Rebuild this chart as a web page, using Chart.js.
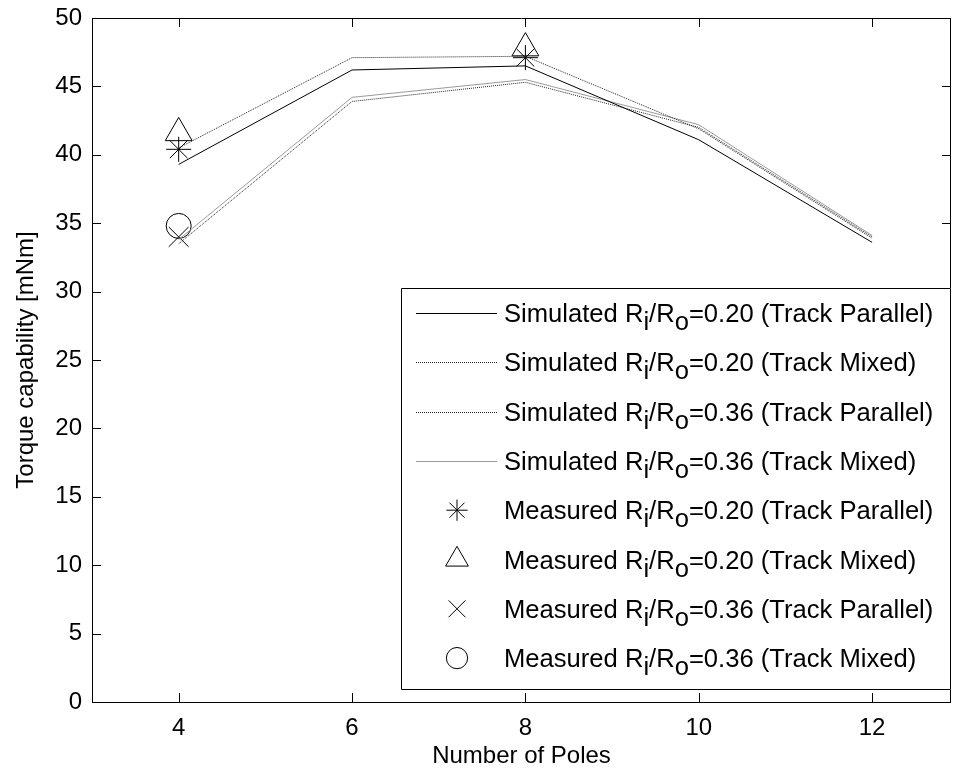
<!DOCTYPE html>
<html><head><meta charset="utf-8">
<script src="https://cdn.jsdelivr.net/npm/chart.js@4.4.1/dist/chart.umd.min.js"></script>
<style>html,body{margin:0;padding:0;background:#fff}canvas{display:block}</style></head>
<body><canvas id="c" width="953" height="777"></canvas>
<script>
// ---- data ----
const poles = [4, 6, 8, 10, 12];
const sim020Parallel = [39.3, 46.2, 46.5, 41.1, 33.6];
const sim020Mixed    = [40.5, 47.1, 47.2, 41.9, 33.9];
const sim036Parallel = [33.5, 43.9, 45.3, 42.0, 34.0];
const sim036Mixed    = [33.8, 44.2, 45.5, 42.2, 34.1];
const measPoles020 = [4, 8];
const meas020Parallel = [40.4, 47.1];
const meas020Mixed    = [41.6, 47.8];
const measPoles036 = [4];
const meas036Parallel = [34.0];
const meas036Mixed    = [34.8];
const xTicks = [4, 6, 8, 10, 12];
const yTicks = [0, 5, 10, 15, 20, 25, 30, 35, 40, 45, 50];
const legendKinds  = ['Simulated','Simulated','Simulated','Simulated','Measured','Measured','Measured','Measured'];
const legendRatios = ['0.20','0.20','0.36','0.36','0.20','0.20','0.36','0.36'];
const legendTracks = ['Track Parallel','Track Mixed','Track Parallel','Track Mixed','Track Parallel','Track Mixed','Track Parallel','Track Mixed'];
const xTitle = 'Number of Poles';
const yTitle = 'Torque capability [mNm]';

const FONT = '"Liberation Sans", Arial, Helvetica, sans-serif';
const pts = (xs, ys) => xs.map((x, i) => ({x, y: ys[i]}));

const lineStyles = [
  {color: '#000000', dash: []},
  {color: '#222222', dash: [1, 1]},
  {color: '#222222', dash: [1, 1]},
  {color: '#9a9a9a', dash: []}
];
const markerStyles = [
  {style: 'star', r: 12.5},
  {style: 'triangle', r: 15.5},
  {style: 'crossRot', r: 14},
  {style: 'circle', r: 12.5}
];

const simSeries = [sim020Parallel, sim020Mixed, sim036Parallel, sim036Mixed];
const measSeries = [pts(measPoles020, meas020Parallel), pts(measPoles020, meas020Mixed),
                    pts(measPoles036, meas036Parallel), pts(measPoles036, meas036Mixed)];

const datasets = [];
simSeries.forEach((s, i) => datasets.push({
  type: 'line', data: pts(poles, s), borderColor: lineStyles[i].color, borderWidth: 1,
  borderDash: lineStyles[i].dash, pointRadius: 0, fill: false, tension: 0
}));
measSeries.forEach((s, i) => datasets.push({
  type: 'line', data: s, showLine: false, pointStyle: markerStyles[i].style,
  pointRadius: markerStyles[i].r, pointBorderColor: '#000', pointBackgroundColor: 'rgba(0,0,0,0)',
  pointBorderWidth: 1, borderColor: '#000'
}));

const zeroPad = s => { s.paddingLeft = 0; s.paddingRight = 0; s.paddingTop = 0; s.paddingBottom = 0; };

const framePlugin = {
  id: 'frame',
  afterDraw(chart) {
    const {ctx, chartArea: a, scales: {x, y}} = chart;
    ctx.save();
    ctx.strokeStyle = '#000';
    ctx.lineWidth = 1;
    ctx.beginPath();
    ctx.rect(Math.round(a.left) + 0.5, Math.round(a.top) + 0.5, Math.round(a.right - a.left) - 1, Math.round(a.bottom - a.top));
    ctx.stroke();
    const tl = 9;
    ctx.beginPath();
    xTicks.forEach(v => {
      const px = Math.round(x.getPixelForValue(v)) + 0.5;
      ctx.moveTo(px, a.bottom); ctx.lineTo(px, a.bottom - tl);
      ctx.moveTo(px, a.top); ctx.lineTo(px, a.top + tl);
    });
    yTicks.forEach(v => {
      const py = Math.round(y.getPixelForValue(v)) + 0.5;
      ctx.moveTo(a.left, py); ctx.lineTo(a.left + tl, py);
      ctx.moveTo(a.right, py); ctx.lineTo(a.right - tl, py);
    });
    ctx.stroke();

    // legend
    const L = {left: 401, top: 288, right: 951, bottom: 690};
    ctx.fillStyle = '#fff';
    ctx.fillRect(L.left, L.top, L.right - L.left, L.bottom - L.top);
    ctx.beginPath();
    ctx.rect(L.left + 0.5, L.top + 0.5, L.right - L.left - 1, L.bottom - L.top - 1);
    ctx.stroke();
    const rowH = 49.3, row0 = 313;
    ctx.font = '25.6px ' + FONT;
    ctx.textBaseline = 'alphabetic';
    ctx.fillStyle = '#000';
    legendKinds.forEach((k, i) => {
      const cy = row0 + i * rowH;
      if (i < 4) {
        const st = lineStyles[i];
        ctx.save();
        ctx.strokeStyle = st.color; ctx.setLineDash(st.dash);
        ctx.beginPath(); ctx.moveTo(416, Math.round(cy) + 0.5); ctx.lineTo(497, Math.round(cy) + 0.5); ctx.stroke();
        ctx.restore();
      } else {
        const m = markerStyles[i - 4];
        ctx.save();
        ctx.strokeStyle = '#000'; ctx.fillStyle = 'rgba(0,0,0,0)'; ctx.lineWidth = 1;
        Chart.helpers.drawPoint(ctx, {pointStyle: m.style, radius: m.r * 0.85, borderWidth: 1}, 457, cy);
        ctx.restore();
      }
      const base = cy + 9;
      let tx = 504;
      const parts = [[k + ' R', 0], ['i', 8], ['/R', 0], ['o', 8], ['=' + legendRatios[i] + ' (' + legendTracks[i] + ')', 0]];
      parts.forEach(([t, dy]) => { ctx.fillText(t, tx, base + dy); tx += ctx.measureText(t).width; });
    });
    ctx.restore();
  }
};

new Chart(document.getElementById('c'), {
  data: {datasets},
  options: {
    responsive: false, animation: false,
    layout: {autoPadding: false, padding: {left: 0, top: 18, right: 2, bottom: 0}},
    plugins: {legend: {display: false}, tooltip: {enabled: false}},
    scales: {
      x: {
        type: 'linear', min: 3, max: 12.91,
        afterBuildTicks: s => { s.ticks = xTicks.map(v => ({value: v})); },
        afterFit: s => { s.height = 75; zeroPad(s); },
        grid: {display: false, drawTicks: false}, border: {display: false},
        ticks: {color: '#000', font: {family: FONT, size: 24}, padding: 12, maxRotation: 0},
        title: {display: true, text: xTitle, color: '#000', font: {family: FONT, size: 24, lineHeight: 1.2}, padding: {top: 0, bottom: 6}}
      },
      y: {
        type: 'linear', min: 0, max: 50,
        afterBuildTicks: s => { s.ticks = yTicks.map(v => ({value: v})); },
        afterFit: s => { s.width = 92; zeroPad(s); },
        grid: {display: false, drawTicks: false}, border: {display: false},
        ticks: {color: '#000', font: {family: FONT, size: 24}, padding: 10},
        title: {display: true, text: yTitle, color: '#000', font: {family: FONT, size: 24, lineHeight: 1.2}, padding: {top: 12, bottom: 0}}
      }
    }
  },
  plugins: [framePlugin]
});
</script></body></html>
